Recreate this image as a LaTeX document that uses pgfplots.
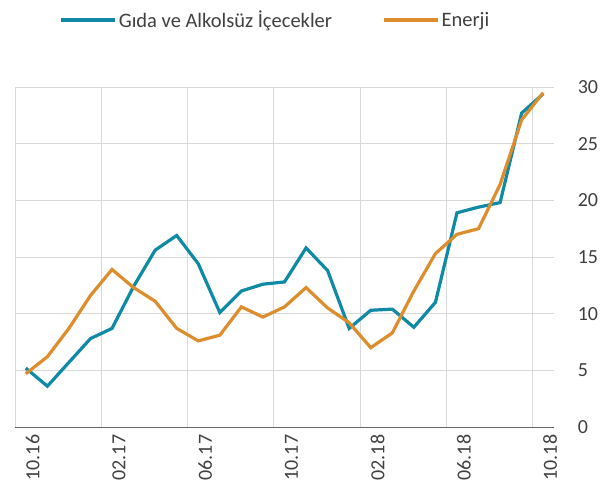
\documentclass[border=0pt]{standalone}
\usepackage{pgfplots}
\pgfplotsset{compat=1.18}
\usepackage{fontspec}
\setmainfont{Carlito}
\definecolor{teal1}{HTML}{0E8AA6}
\definecolor{orng}{HTML}{DE8D2C}
\definecolor{txt}{HTML}{404040}
\definecolor{gridc}{HTML}{D9D9D9}
\pgfplotstableread{
i gida enerji
0 5.2 4.7
1 3.6 6.2
2 5.7 8.7
3 7.8 11.6
4 8.7 13.9
5 12.4 12.3
6 15.6 11.1
7 16.9 8.7
8 14.4 7.6
9 10.1 8.1
10 12.0 10.6
11 12.6 9.7
12 12.8 10.6
13 15.8 12.3
14 13.8 10.5
15 8.7 9.2
16 10.3 7.0
17 10.4 8.3
18 8.8 12.0
19 11.0 15.3
20 18.9 17.0
21 19.4 17.5
22 19.8 21.4
23 27.7 27.1
24 29.4 29.5
}\data
\begin{document}
\begin{tikzpicture}
\path[use as bounding box] (-15bp,-68bp) rectangle (589bp,427bp);
\begin{axis}[
  at={(0,0)}, anchor=south west,
  scale only axis, width=539bp, height=340bp,
  xmin=-0.5, xmax=24.5, ymin=0, ymax=30,
  font=\fontsize{20bp}{23bp}\selectfont,
  /pgf/number format/assume math mode=true,
  axis x line*=bottom, axis y line*=right,
  y axis line style={draw=none},
  x axis line style={color=txt!80, line width=0.8bp},
  xtick={0,4,...,24},
  xticklabels={10.16,02.17,06.17,10.17,02.18,06.18,10.18},
  xticklabel style={rotate=90, anchor=east, text=txt, yshift=-7bp},
  major x tick style={draw=none},
  extra x ticks={-0.5,3.5,7.5,11.5,15.5,19.5,23.5},
  extra x tick labels={},
  extra x tick style={grid=major, major grid style={gridc, line width=0.8bp}, major tick length=7bp, tick style={txt!80, line width=0.8bp}, tick pos=bottom, tick align=outside},
  ytick={0,5,...,30},
  yticklabel pos=right,
  yticklabel style={text=txt, anchor=west, xshift=16bp},
  ymajorgrids, grid style={gridc, line width=0.8bp},
  major y tick style={draw=none},
  tick align=outside,
  legend columns=2,
  legend style={draw=none, fill=none, at={(0.483,1.197)}, anchor=center, font=\fontsize{20.5bp}{23bp}\selectfont, text=txt, /tikz/every even column/.append style={column sep=48bp}, inner sep=0pt, nodes={inner sep=2bp}},
  legend image code/.code={\draw[#1, line width=3.5bp] (0,0) -- (54bp,0);},
  clip=false,
]
\addplot[teal1, line width=3.2bp] table[x=i, y=gida] {\data};
\addlegendentry{Gıda ve Alkolsüz İçecekler}
\addplot[orng, line width=3.2bp] table[x=i, y=enerji] {\data};
\addlegendentry{Enerji}
\end{axis}
\end{tikzpicture}
\end{document}
